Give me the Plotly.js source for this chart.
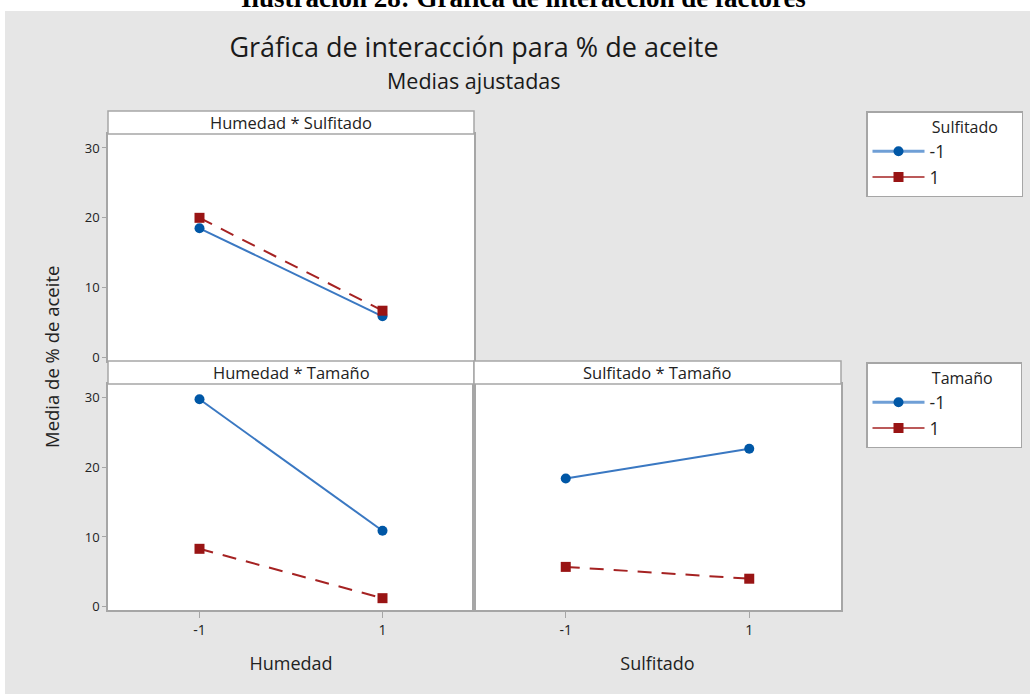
<!DOCTYPE html>
<html>
<head>
<meta charset="utf-8">
<script src="https://cdn.plot.ly/plotly-3.0.1.min.js"></script>
<style>
html,body{margin:0;padding:0;background:#fff;}
#chart{width:1030px;height:694px;}
</style>
</head>
<body>
<div id="chart"></div>
<script>
// ---- Data ----
const niveles = [-1, 1];
const nivelesTexto = ['-1', '1'];
const ejeY = [0, 10, 20, 30];

// Panel: Humedad * Sulfitado (x = Humedad)
const humSulf_sulfMenos1 = [18.5, 5.9];
const humSulf_sulfMas1 = [20.0, 6.7];
// Panel: Humedad * Tamaño (x = Humedad)
const humTam_tamMenos1 = [29.8, 10.9];
const humTam_tamMas1 = [8.3, 1.2];
// Panel: Sulfitado * Tamaño (x = Sulfitado)
const sulfTam_tamMenos1 = [18.4, 22.7];
const sulfTam_tamMas1 = [5.7, 4.0];

const tituloPrincipal = 'Gráfica de interacción para % de aceite';
const subtitulo = 'Medias ajustadas';
const leyenda = 'Ilustración 28: Gráfica de interacción de factores';
const tituloY = 'Media de % de aceite';
const paneles = ['Humedad * Sulfitado', 'Humedad * Tamaño', 'Sulfitado * Tamaño'];
const nombresNivel = ['-1', '1'];

// ---- Styling ----
const W = 1030, H = 694;
const FONT = "'Segoe UI', 'Open Sans', sans-serif";
const TXT = '#222222';
const FRAME = '#A6A6A6';
const BLUE_M = '#0057A6', BLUE_L = '#3A78C2';
const RED_M = '#991414', RED_L = '#A52222';

const px = v => v / W;
const py = v => 1 - v / H;

function serie(x, y, xa, ya, azul, nombre) {
  return {
    type: 'scatter', mode: 'lines+markers', x: x, y: y, xaxis: xa, yaxis: ya,
    name: nombre, showlegend: false,
    line: azul ? {color: BLUE_L, width: 2} : {color: RED_L, width: 2, dash: '14px,10px'},
    marker: azul ? {color: BLUE_M, size: 10, symbol: 'circle'} : {color: RED_M, size: 10, symbol: 'square'},
    hoverinfo: 'x+y'
  };
}
// legend-only entries (solid sample lines, as in the reference key)
function clave(azul, nombre, leg) {
  return {
    type: 'scatter', mode: 'lines+markers', x: [null], y: [null], xaxis: 'x', yaxis: 'y',
    name: nombre, legend: leg, showlegend: true, hoverinfo: 'skip',
    line: azul ? {color: '#6F9FD6', width: 3} : {color: RED_L, width: 1.5},
    marker: azul ? {color: BLUE_M, size: 10, symbol: 'circle'} : {color: RED_M, size: 10, symbol: 'square'}
  };
}

const data = [
  serie(niveles, humSulf_sulfMenos1, 'x', 'y', true, nombresNivel[0]),
  serie(niveles, humSulf_sulfMas1, 'x', 'y', false, nombresNivel[1]),
  serie(niveles, humTam_tamMenos1, 'x2', 'y2', true, nombresNivel[0]),
  serie(niveles, humTam_tamMas1, 'x2', 'y2', false, nombresNivel[1]),
  serie(niveles, sulfTam_tamMenos1, 'x3', 'y3', true, nombresNivel[0]),
  serie(niveles, sulfTam_tamMas1, 'x3', 'y3', false, nombresNivel[1]),
  clave(true, nombresNivel[0], 'legend'),
  clave(false, nombresNivel[1], 'legend'),
  clave(true, nombresNivel[0], 'legend2'),
  clave(false, nombresNivel[1], 'legend2')
];

const left0 = px(108), mid = px(474), right0 = px(841);
const topDom = [py(361), py(134)];
const botDom = [py(610), py(384)];
const yRange = [-0.5, 32];

const baseAxis = {
  showline: true, mirror: true, linecolor: FRAME, linewidth: 1.5,
  showgrid: false, zeroline: false, fixedrange: true,
  tickfont: {family: FONT, size: 13, color: TXT}, tickcolor: FRAME
};
const xTitleFont = {family: FONT, size: 18, color: TXT};

const nb = n => '&nbsp;'.repeat(n);
const legendBase = {
  xanchor: 'left', yanchor: 'top',
  bgcolor: '#FFFFFF', bordercolor: FRAME, borderwidth: 1.5,
  font: {family: FONT, size: 17.5, color: TXT},
  itemclick: false, itemdoubleclick: false, tracegroupgap: 0, itemwidth: 52
};

const layout = {
  width: W, height: H,
  margin: {l: 0, r: 0, t: 0, b: 0},
  paper_bgcolor: '#E6E6E6',
  plot_bgcolor: '#FFFFFF',
  font: {family: FONT, color: TXT},
  title: {text: tituloPrincipal, x: px(474), xanchor: 'center', y: py(48), yanchor: 'middle',
          xref: 'paper', yref: 'container', font: {family: FONT, size: 27, color: '#1A1A1A'}},
  xaxis: Object.assign({}, baseAxis, {domain: [left0, mid], range: [-2, 2], anchor: 'y',
          showticklabels: false, ticks: ''}),
  yaxis: Object.assign({}, baseAxis, {domain: topDom, range: yRange, anchor: 'x',
          tickvals: ejeY, ticks: 'outside', ticklen: 4}),
  xaxis2: Object.assign({}, baseAxis, {domain: [left0, mid], range: [-2, 2], anchor: 'y2',
          tickvals: niveles, ticktext: nivelesTexto, ticks: 'outside', ticklen: 6,
          tickfont: {family: FONT, size: 14, color: TXT},
          title: {text: 'Humedad', standoff: 20, font: xTitleFont}}),
  yaxis2: Object.assign({}, baseAxis, {domain: botDom, range: yRange, anchor: 'x2',
          tickvals: ejeY, ticks: 'outside', ticklen: 4}),
  xaxis3: Object.assign({}, baseAxis, {domain: [mid, right0], range: [-2, 2], anchor: 'y3',
          tickvals: niveles, ticktext: nivelesTexto, ticks: 'outside', ticklen: 6,
          tickfont: {family: FONT, size: 14, color: TXT},
          title: {text: 'Sulfitado', standoff: 20, font: xTitleFont}}),
  yaxis3: Object.assign({}, baseAxis, {domain: botDom, range: yRange, anchor: 'x3',
          showticklabels: false, ticks: ''}),
  legend: Object.assign({}, legendBase, {
    x: px(866), y: py(111),
    title: {text: nb(15) + 'Sulfitado' + nb(5), font: {family: FONT, size: 16, color: TXT}}
  }),
  legend2: Object.assign({}, legendBase, {
    x: px(866), y: py(362),
    title: {text: nb(15) + 'Tamaño' + nb(6), font: {family: FONT, size: 16, color: TXT}}
  }),
  shapes: [
    // white band at top and left edge (document page)
    {type: 'rect', xref: 'paper', yref: 'paper', x0: 0, x1: 1, y0: py(11), y1: 1,
     fillcolor: '#FFFFFF', line: {width: 0}, layer: 'below'},
    {type: 'rect', xref: 'paper', yref: 'paper', x0: 0, x1: px(5), y0: 0, y1: 1,
     fillcolor: '#FFFFFF', line: {width: 0}, layer: 'below'},
    // strips
    {type: 'rect', xref: 'paper', yref: 'paper', x0: left0, x1: mid, y0: py(134), y1: py(111),
     fillcolor: '#FFFFFF', line: {color: FRAME, width: 1.5}},
    {type: 'rect', xref: 'paper', yref: 'paper', x0: left0, x1: mid, y0: py(384), y1: py(361),
     fillcolor: '#FFFFFF', line: {color: FRAME, width: 1.5}},
    {type: 'rect', xref: 'paper', yref: 'paper', x0: mid, x1: right0, y0: py(384), y1: py(361),
     fillcolor: '#FFFFFF', line: {color: FRAME, width: 1.5}}
  ],
  annotations: [
    {text: '<b>' + leyenda + '</b>', xref: 'paper', yref: 'paper', x: px(523), y: py(15),
     xanchor: 'center', yanchor: 'bottom', showarrow: false,
     font: {family: "'Liberation Serif', 'Times New Roman', serif", size: 27, color: '#000'}},
    {text: subtitulo, xref: 'paper', yref: 'paper', x: px(474), y: py(81),
     xanchor: 'center', yanchor: 'middle', showarrow: false,
     font: {family: FONT, size: 21.5, color: '#1A1A1A'}},
    {text: tituloY, xref: 'paper', yref: 'paper', x: px(51), y: py(357),
     xanchor: 'center', yanchor: 'middle', textangle: -90, showarrow: false,
     font: {family: FONT, size: 18.5, color: TXT}},
    {text: paneles[0], xref: 'paper', yref: 'paper', x: (left0 + mid) / 2, y: py(122.5),
     xanchor: 'center', yanchor: 'middle', showarrow: false, font: {family: FONT, size: 16.5, color: TXT}},
    {text: paneles[1], xref: 'paper', yref: 'paper', x: (left0 + mid) / 2, y: py(372.5),
     xanchor: 'center', yanchor: 'middle', showarrow: false, font: {family: FONT, size: 16.5, color: TXT}},
    {text: paneles[2], xref: 'paper', yref: 'paper', x: (mid + right0) / 2, y: py(372.5),
     xanchor: 'center', yanchor: 'middle', showarrow: false, font: {family: FONT, size: 16.5, color: TXT}}
  ],
  hovermode: 'closest'
};

Plotly.newPlot('chart', data, layout, {displayModeBar: false, responsive: false});
</script>
</body>
</html>
